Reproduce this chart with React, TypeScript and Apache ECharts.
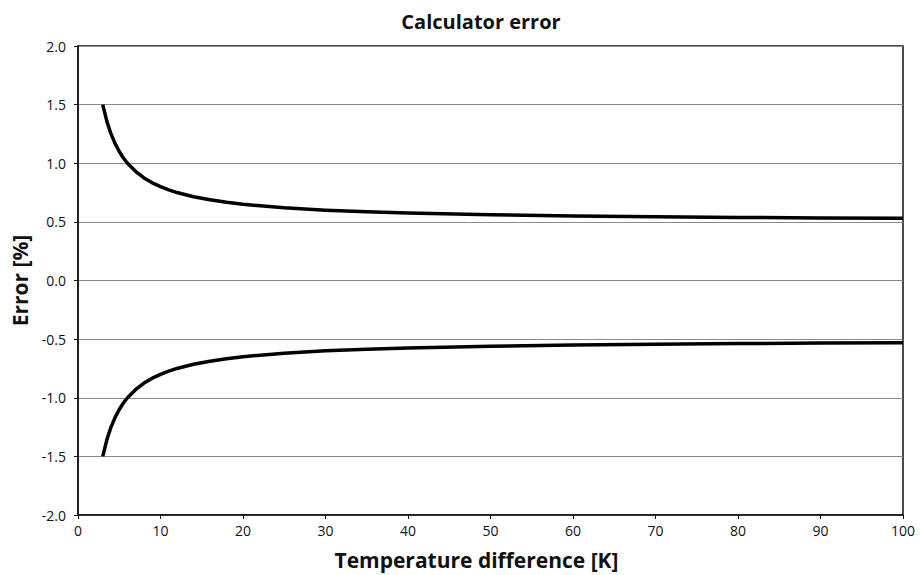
import React, { useEffect, useRef } from "react";
import * as echarts from "echarts";

const tempDiff = [3, 3.5, 4, 4.5, 5, 5.5, 6, 7, 8, 9, 10, 11, 12, 14, 16, 18, 20, 25, 30, 35, 40, 50, 60, 70, 80, 90, 100];
const upperError = [1.5, 1.357, 1.25, 1.167, 1.1, 1.045, 1.0, 0.929, 0.875, 0.833, 0.8, 0.773, 0.75, 0.714, 0.688, 0.667, 0.65, 0.62, 0.6, 0.586, 0.575, 0.56, 0.55, 0.543, 0.538, 0.533, 0.53];
const lowerError = [-1.5, -1.357, -1.25, -1.167, -1.1, -1.045, -1.0, -0.929, -0.875, -0.833, -0.8, -0.773, -0.75, -0.714, -0.688, -0.667, -0.65, -0.62, -0.6, -0.586, -0.575, -0.56, -0.55, -0.543, -0.538, -0.533, -0.53];

const FONT = "'Open Sans', 'Noto Sans', sans-serif";

export default function App() {
  const ref = useRef<HTMLDivElement>(null);
  useEffect(() => {
    if (!ref.current) return;
    const chart = echarts.init(ref.current, undefined, { renderer: "svg" });
    const mk = (vals: number[]) => tempDiff.map((x, i) => [x, vals[i]]);
    chart.setOption({
      animation: false,
      backgroundColor: "#fff",
      textStyle: { fontFamily: FONT },
      title: {
        text: "Calculator error",
        left: 476,
        textAlign: "center",
        top: 6,
        textStyle: { fontFamily: FONT, fontWeight: "bold", fontSize: 20, color: "#111" },
      },
      grid: {
        left: 78,
        top: 46,
        right: 17,
        bottom: 59,
        show: true,
        borderColor: "#111",
        borderWidth: 1.5,
      },
      xAxis: {
        type: "value",
        min: 0,
        max: 100,
        interval: 10,
        name: "Temperature difference [K]",
        nameLocation: "middle",
        nameGap: 34,
        nameTextStyle: { fontFamily: FONT, fontWeight: "bold", fontSize: 21, color: "#111", padding: [0, 28, 0, 0] },
        axisLine: { show: true, onZero: false, lineStyle: { color: "#111", width: 1.5 } },
        axisTick: { show: true, inside: false, length: 4, lineStyle: { color: "#111" } },
        axisLabel: { fontFamily: FONT, fontSize: 14, color: "#111", margin: 8 },
        splitLine: { show: false },
      },
      yAxis: {
        type: "value",
        min: -2,
        max: 2,
        interval: 0.5,
        name: "Error [%]",
        nameLocation: "middle",
        nameGap: 48,
        nameRotate: 90,
        nameTextStyle: { fontFamily: FONT, fontWeight: "bold", fontSize: 21, color: "#111", padding: [0, 0, 0, 0] },
        axisLine: { show: true, onZero: false, lineStyle: { color: "#111", width: 1.5 } },
        axisTick: { show: true, inside: false, length: 4, lineStyle: { color: "#111" } },
        axisLabel: { fontFamily: FONT, fontSize: 14, color: "#111", margin: 12, formatter: (v: number) => v.toFixed(1) },
        splitLine: { show: true, lineStyle: { color: "#8a8a8a", width: 1.2 } },
      },
      series: [
        {
          type: "line",
          data: mk(upperError),
          showSymbol: false,
          smooth: false,
          lineStyle: { color: "#000", width: 3.5, join: "round" },
        },
        {
          type: "line",
          data: mk(lowerError),
          showSymbol: false,
          smooth: false,
          lineStyle: { color: "#000", width: 3.5, join: "round" },
        },
      ],
    });
    return () => chart.dispose();
  }, []);
  return <div ref={ref} style={{ width: 920, height: 575, position: "absolute", left: 0, top: 0 }} />;
}
